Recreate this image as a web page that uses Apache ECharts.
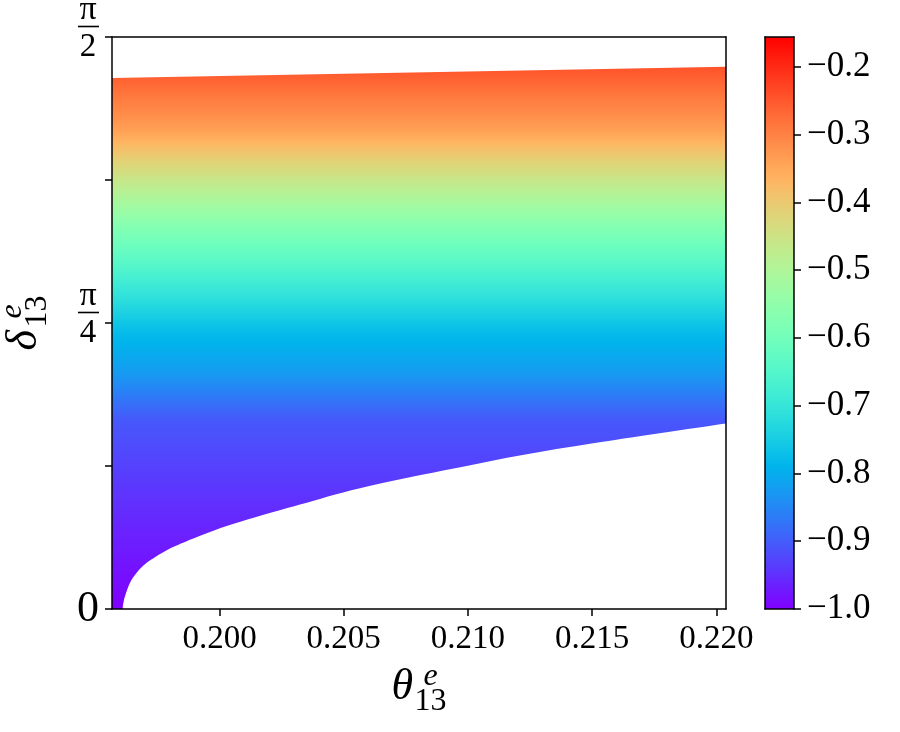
<!DOCTYPE html>
<html>
<head>
<meta charset="utf-8">
<title>delta13 vs theta13</title>
<script src="https://cdn.jsdelivr.net/npm/echarts@6/dist/echarts.min.js"></script>
<style>
  html, body { margin: 0; padding: 0; background: #fff; }
  #chart { width: 900px; height: 732px; }
</style>
</head>
<body>
<div id="chart"></div>
<script>
// lower edge of the allowed region
var lowerTheta = [0.195672, 0.196103, 0.196135, 0.196195, 0.196397, 0.196666, 0.197069, 0.197874, 0.198679,
  0.199887, 0.201228, 0.203241, 0.205656, 0.209009, 0.212367, 0.215720, 0.220390];
var lowerDelta = [0, 0, 0.0178, 0.0351, 0.0719, 0.0993, 0.1268, 0.1613, 0.1860,
  0.2181, 0.2475, 0.2867, 0.3315, 0.3800, 0.4250, 0.4620, 0.5092];
// upper edge
var upperTheta = [0.195672, 0.220390];
var upperDelta = [1.4583, 1.4893];
// colour value read along delta13
var colourDelta = [0, 0.29, 0.52, 0.657, 0.767, 1.041, 1.178, 1.316, 1.488, 1.5708];
var colourValue = [-1.0, -0.95, -0.905, -0.82, -0.775, -0.578, -0.46, -0.337, -0.245, -0.2];

var xMin = 0.195672, xMax = 0.22039;
var xTicks = [0.200, 0.205, 0.210, 0.215, 0.220];
var yTicks = [0, Math.PI / 8, Math.PI / 4, 3 * Math.PI / 8, Math.PI / 2];
var yLabelValues = [0, Math.PI / 4, Math.PI / 2];
var cbMin = -1.0, cbMax = -0.156;
var cbTicks = [-1.0, -0.9, -0.8, -0.7, -0.6, -0.5, -0.4, -0.3, -0.2];

var FONT = "'Liberation Serif', 'DejaVu Serif', serif";

// matplotlib "rainbow" colormap
function rainbow(t) {
  t = Math.max(0, Math.min(1, t));
  var r = Math.min(1, Math.abs(2 * t - 0.5));
  var g = Math.sin(Math.PI * t);
  var b = Math.cos(Math.PI * t / 2);
  return 'rgb(' + Math.round(r * 255) + ',' + Math.round(g * 255) + ',' + Math.round(b * 255) + ')';
}
function norm(v) { return (v - cbMin) / (cbMax - cbMin); }

function valueAtDelta(d) {
  for (var i = 1; i < colourDelta.length; i++) {
    if (d <= colourDelta[i]) {
      var f = (d - colourDelta[i - 1]) / (colourDelta[i] - colourDelta[i - 1]);
      return colourValue[i - 1] + f * (colourValue[i] - colourValue[i - 1]);
    }
  }
  return colourValue[colourValue.length - 1];
}

// gradient stops, offset 0 = delta pi/2 (top), 1 = delta 0 (bottom)
function regionStops() {
  var stops = [];
  var n = 60;
  for (var i = 0; i <= n; i++) {
    var d = Math.PI / 2 * (1 - i / n);
    stops.push({ offset: i / n, color: rainbow(norm(valueAtDelta(d))) });
  }
  return stops;
}
function barStops() {
  var stops = [];
  var n = 40;
  for (var i = 0; i <= n; i++) {
    stops.push({ offset: i / n, color: rainbow(1 - i / n) });
  }
  return stops;
}

function fmt(p) { return p[0].toFixed(2) + ' ' + p[1].toFixed(2); }

function renderRegion(params, api) {
  var lo = [];
  for (var i = 0; i < lowerTheta.length; i++) {
    lo.push(api.coord([lowerTheta[i], lowerDelta[i]]));
  }
  // corner, then a smooth curve through the lower edge points
  var d = 'M' + fmt(lo[0]) + ' L' + fmt(lo[1]);
  for (var k = 1; k < lo.length - 1; k++) {
    var p0 = lo[k - 1 < 1 ? 1 : k - 1], p1 = lo[k], p2 = lo[k + 1];
    var p3 = lo[k + 2 < lo.length ? k + 2 : lo.length - 1];
    var c1 = [p1[0] + (p2[0] - p0[0]) / 6, p1[1] + (p2[1] - p0[1]) / 6];
    var c2 = [p2[0] - (p3[0] - p1[0]) / 6, p2[1] - (p3[1] - p1[1]) / 6];
    if (k === 1) c1 = [p1[0], p1[1] - (p1[1] - p2[1]) / 2];
    d += ' C' + fmt(c1) + ' ' + fmt(c2) + ' ' + fmt(p2);
  }
  for (var j = upperTheta.length - 1; j >= 0; j--) {
    d += ' L' + fmt(api.coord([upperTheta[j], upperDelta[j]]));
  }
  d += ' Z';
  var top = api.coord([xMin, Math.PI / 2]);
  var bot = api.coord([xMin, 0]);
  return {
    type: 'path',
    shape: { pathData: d },
    style: { fill: new echarts.graphic.LinearGradient(0, top[1], 0, bot[1], regionStops(), true), stroke: null }
  };
}

function renderColourbar(params, api) {
  var p0 = api.coord([0, cbMax]);
  var p1 = api.coord([1, cbMin]);
  return {
    type: 'rect',
    shape: { x: p0[0], y: p0[1], width: p1[0] - p0[0], height: p1[1] - p0[1] },
    style: { fill: new echarts.graphic.LinearGradient(0, p0[1], 0, p1[1], barStops(), true) }
  };
}

var lineStyle = { color: '#000', width: 1.5 };
var titleRich = {
  g: { width: 23, fontFamily: FONT, fontSize: 10, lineHeight: 12 },
  g2: { width: 23, fontFamily: FONT, fontSize: 10, lineHeight: 18 },
  e: { width: 32, align: 'left', fontFamily: FONT, fontStyle: 'italic', fontSize: 32, lineHeight: 12, color: '#000' },
  t: { width: 55, align: 'left', fontFamily: FONT, fontStyle: 'italic', fontSize: 44, lineHeight: 10, color: '#000' },
  s: { width: 32, align: 'left', fontFamily: FONT, fontSize: 32, lineHeight: 18, color: '#000' }
};

function fracLabel(den) {
  return '{n|π}\n{bar| }\n{d|' + den + '}\n{pad| }';
}

var chart = echarts.init(document.getElementById('chart'), null, { renderer: 'canvas' });

var option = {
  animation: false,
  backgroundColor: '#fff',
  grid: [
    { left: 112, top: 37, width: 614, height: 572, containLabel: false, outerBoundsMode: 'none' },
    { left: 765, top: 37, width: 29, height: 572, containLabel: false, outerBoundsMode: 'none' }
  ],
  xAxis: [
    {
      gridIndex: 0, type: 'value', min: xMin, max: xMax, position: 'bottom', z: 5,
      axisLine: { show: true, onZero: false, lineStyle: lineStyle },
      axisTick: { show: true, length: 7, lineStyle: lineStyle, customValues: xTicks },
      axisLabel: {
        customValues: xTicks, margin: 14, fontFamily: FONT, fontSize: 33, color: '#000',
        formatter: function (v) { return v.toFixed(3); }
      },
      splitLine: { show: false },
      name: '{g| }{e|e}\n{t|θ}\n{g2| }{s|13}',
      nameLocation: 'middle', nameGap: 55,
      nameTextStyle: { rich: titleRich }
    },
    {
      gridIndex: 0, type: 'value', min: xMin, max: xMax, position: 'top', z: 5,
      axisLine: { show: true, onZero: false, lineStyle: lineStyle },
      axisTick: { show: false }, axisLabel: { show: false }, splitLine: { show: false }
    },
    {
      gridIndex: 1, type: 'value', min: 0, max: 1, position: 'bottom', z: 5,
      axisLine: { show: true, onZero: false, lineStyle: lineStyle },
      axisTick: { show: false }, axisLabel: { show: false }, splitLine: { show: false }
    },
    {
      gridIndex: 1, type: 'value', min: 0, max: 1, position: 'top', z: 5,
      axisLine: { show: true, onZero: false, lineStyle: lineStyle },
      axisTick: { show: false }, axisLabel: { show: false }, splitLine: { show: false }
    }
  ],
  yAxis: [
    {
      gridIndex: 0, type: 'value', min: 0, max: Math.PI / 2, position: 'left', z: 5,
      axisLine: { show: true, onZero: false, lineStyle: lineStyle },
      axisTick: { show: true, length: 7, lineStyle: lineStyle, customValues: yTicks },
      axisLabel: {
        customValues: yLabelValues, margin: 13, color: '#000', align: 'right',
        formatter: function (v) {
          if (v < 0.1) return '{z|0}';
          if (v < 1) return fracLabel(4);
          return fracLabel(2);
        },
        rich: {
          z: { fontFamily: FONT, fontSize: 44, color: '#000' },
          n: { fontFamily: FONT, fontSize: 34, lineHeight: 26, width: 22, align: 'center', color: '#000' },
          bar: { fontSize: 1, width: 21, height: 1.6, lineHeight: 7, backgroundColor: '#000' },
          d: { fontFamily: FONT, fontSize: 33, lineHeight: 34, width: 22, align: 'center', color: '#000' },
          pad: { fontSize: 1, lineHeight: 13 }
        }
      },
      splitLine: { show: false },
      name: '{g| }{e|e}\n{t|δ}\n{g2| }{s|13}',
      nameLocation: 'middle', nameGap: 65, nameRotate: 90,
      nameTextStyle: { rich: titleRich }
    },
    {
      gridIndex: 0, type: 'value', min: 0, max: Math.PI / 2, position: 'right', z: 5,
      axisLine: { show: true, onZero: false, lineStyle: lineStyle },
      axisTick: { show: false }, axisLabel: { show: false }, splitLine: { show: false }
    },
    {
      gridIndex: 1, type: 'value', min: cbMin, max: cbMax, position: 'left', z: 5,
      axisLine: { show: true, onZero: false, lineStyle: lineStyle },
      axisTick: { show: false }, axisLabel: { show: false }, splitLine: { show: false }
    },
    {
      gridIndex: 1, type: 'value', min: cbMin, max: cbMax, position: 'right', z: 5,
      axisLine: { show: true, onZero: false, lineStyle: lineStyle },
      axisTick: { show: true, length: 7, lineStyle: lineStyle, customValues: cbTicks },
      axisLabel: {
        customValues: cbTicks, margin: 13, fontFamily: FONT, fontSize: 35, color: '#000',
        formatter: function (v) { return '\u2212' + Math.abs(v).toFixed(1); }
      },
      splitLine: { show: false }
    }
  ],
  series: [
    {
      type: 'custom', name: 'region', xAxisIndex: 0, yAxisIndex: 0, z: 2,
      renderItem: renderRegion, data: [[xMin, 0]], silent: true
    },
    {
      type: 'custom', name: 'colourbar', xAxisIndex: 2, yAxisIndex: 3, z: 2,
      renderItem: renderColourbar, data: [[0, cbMin]], silent: true
    }
  ]
};

chart.setOption(option);
</script>
</body>
</html>
